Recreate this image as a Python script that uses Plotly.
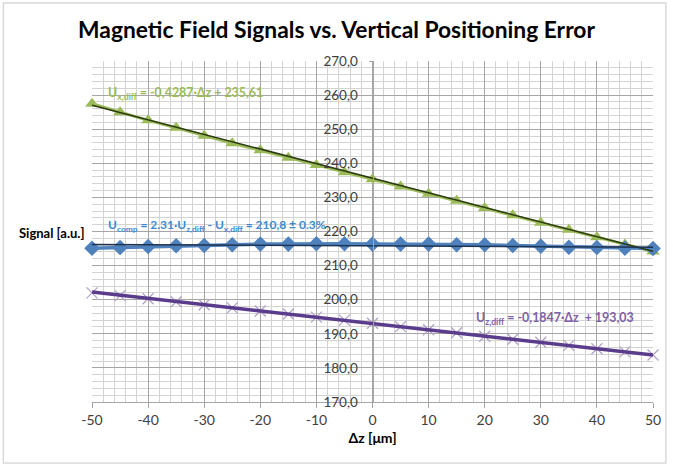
import plotly.graph_objects as go
import numpy as np

dz = [-50, -45, -40, -35, -30, -25, -20, -15, -10, -5, 0, 5, 10, 15, 20, 25, 30, 35, 40, 45, 50]
u_x_diff = [257.5, 255.0, 252.6, 250.4, 248.1, 245.9, 243.8, 241.6, 239.5, 237.4, 235.3,
            233.2, 231.1, 229.0, 226.9, 224.8, 222.6, 220.5, 218.3, 216.2, 214.1]
u_comp = [215.1, 215.3, 215.6, 215.8, 215.9, 216.1, 216.3, 216.3, 216.4, 216.4, 216.3,
          216.3, 216.3, 216.1, 216.1, 215.9, 215.7, 215.4, 215.3, 215.1, 215.0]
u_z_diff = [202.0, 201.2, 200.3, 199.4, 198.5, 197.6, 196.7, 195.8, 194.9, 194.0, 193.1,
            192.1, 191.2, 190.3, 189.3, 188.4, 187.5, 186.6, 185.6, 184.7, 183.8]

# trendline coefficients (slope, intercept)
x_trend = (-0.4287, 235.61)
z_trend = (-0.1847, 193.03)
comp_trend = (-0.008, 215.8)

x_ticks = [-50, -40, -30, -20, -10, 0, 10, 20, 30, 40, 50]
x_ticktext = ["-50", "-40", "-30", "-20", "-10", "0", "10", "20", "30", "40", "50"]
y_ticks = [170, 180, 190, 200, 210, 220, 230, 240, 250, 260, 270]
y_ticktext = ["170,0", "180,0", "190,0", "200,0", "210,0", "220,0", "230,0", "240,0", "250,0", "260,0", "270,0"]

FONT = "Lato"
green, green_dark = "#9BBB59", "#2B3A12"
blue, blue_dark = "#4F81BD", "#1F3450"
purple_m, purple_line = "#B3A2C7", "#5B3C8C"

def trend(c):
    xs = np.array([dz[0], dz[-1]], dtype=float)
    return xs, c[0] * xs + c[1]

fig = go.Figure()
fig.add_trace(go.Scatter(x=dz, y=u_x_diff, mode="lines+markers", cliponaxis=False,
                         line=dict(color=green, width=3),
                         marker=dict(symbol="triangle-up", size=12, color=green)))
fig.add_trace(go.Scatter(x=dz, y=u_comp, mode="lines+markers", cliponaxis=False,
                         line=dict(color=blue, width=3.5),
                         marker=dict(symbol="diamond", size=12, color=blue)))
fig.add_trace(go.Scatter(x=dz, y=u_z_diff, mode="markers", cliponaxis=False,
                         marker=dict(symbol="x-thin", size=11, line=dict(color=purple_m, width=1.3))))
tx, ty = trend(x_trend)
fig.add_trace(go.Scatter(x=tx, y=ty, mode="lines", line=dict(color=green_dark, width=1.5)))
tx, ty = trend(comp_trend)
fig.add_trace(go.Scatter(x=tx, y=ty, mode="lines", line=dict(color=blue_dark, width=1.5)))
tx, ty = trend(z_trend)
fig.add_trace(go.Scatter(x=tx, y=ty, mode="lines", line=dict(color=purple_line, width=3.5)))

fig.update_layout(
    width=673, height=466,
    margin=dict(l=92, r=17, t=61, b=64),
    paper_bgcolor="white", plot_bgcolor="white",
    showlegend=False,
    font=dict(family=FONT, color="#404040", size=13),
    title=dict(text="<b>Magnetic Field Signals vs. Vertical Positioning Error</b>",
               x=0.5, xanchor="center", y=0.935, yanchor="middle",
               font=dict(family=FONT, size=22.8, color="#000000")),
    xaxis=dict(range=[-50, 50], tickvals=x_ticks, ticktext=x_ticktext,
               showgrid=True, gridcolor="#A6A6A6", gridwidth=1,
               minor=dict(dtick=2, tick0=0, showgrid=True, gridcolor="#D3D3D3", gridwidth=1),
               zeroline=False, showline=True, linecolor="#A6A6A6", linewidth=1,
               ticks="outside", ticklen=5, tickcolor="#A6A6A6",
               tickfont=dict(size=14, color="#404040"),
               title=dict(text="<b>Δz [μm]</b>", font=dict(size=14, color="#000000"), standoff=6)),
    yaxis=dict(range=[170, 270], tickvals=y_ticks, ticktext=y_ticktext,
               anchor="free", position=0.5, showgrid=True, gridcolor="#A6A6A6", gridwidth=1,
               minor=dict(dtick=2, tick0=170, showgrid=True, gridcolor="#D3D3D3", gridwidth=1),
               zeroline=False, showline=True, linecolor="#A6A6A6", linewidth=1,
               ticks="outside", ticklen=4, tickcolor="#A6A6A6", ticklabelstandoff=8,
               tickfont=dict(size=13.5, color="#404040")),
)

fig.add_annotation(text="<b>Signal [a.u.]</b>", xref="paper", yref="paper", x=(86 - 92) / 564, y=0.496,
                   xanchor="right", showarrow=False, font=dict(size=13, color="#000000"))
fig.add_annotation(text="<b>U<sub>x,diff</sub> = -0,4287·Δz + 235,61</b>", xref="paper", yref="y",
                   x=(106 - 92) / 564, y=260.6, xanchor="left", yanchor="middle", showarrow=False,
                   font=dict(size=12.4, color=green))
fig.add_annotation(text="<b>U<sub>comp</sub> = 2.31·U<sub>z,diff</sub> - U<sub>x,diff</sub> = 210,8 ± 0.3%</b>",
                   xref="paper", yref="y", x=(106 - 92) / 564, y=221.8, xanchor="left", yanchor="middle",
                   showarrow=False, font=dict(size=12, color="#3B8AD0"))
fig.add_annotation(text="<b>U<sub>z,diff</sub> = -0,1847·Δz  + 193,03</b>", xref="paper", yref="y",
                   x=(476 - 92) / 564, y=194.6, xanchor="left", yanchor="middle", showarrow=False,
                   font=dict(size=12.4, color="#7F5FA8"))

fig.add_shape(type="rect", xref="paper", yref="paper", x0=-0.158, x1=1.023, y0=-0.179, y1=1.170,
              line=dict(color="#D9D9D9", width=1.5), fillcolor="rgba(0,0,0,0)", layer="below")

fig.write_html("out.html")
